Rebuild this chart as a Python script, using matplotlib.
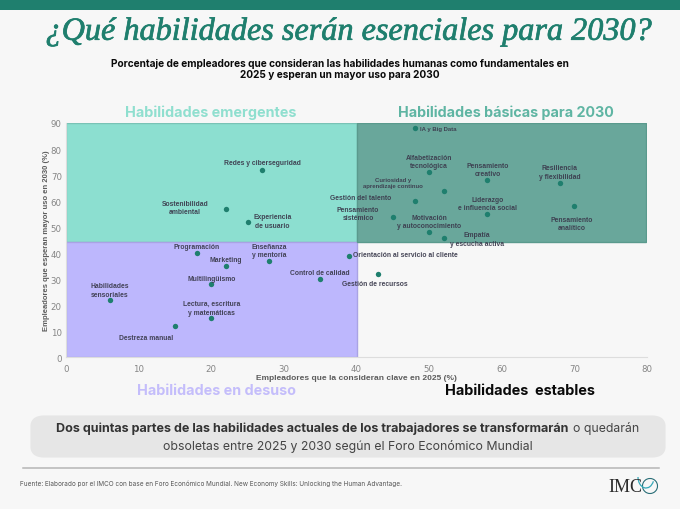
import matplotlib
matplotlib.use('Agg')
import matplotlib.pyplot as plt
import matplotlib.patheffects as pe
from matplotlib.patches import Rectangle, FancyBboxPatch, Arc

# Datos
skills = ["IA y Big Data", "Alfabetización\ntecnológica", "Pensamiento\ncreativo", "Resiliencia\ny flexibilidad",
          "Curiosidad y\naprendizaje continuo", "Gestión del talento", "Pensamiento\nanalítico",
          "Liderazgo\ne influencia social", "Pensamiento\nsistémico", "Motivación\ny autoconocimiento",
          "Empatía\ny escucha activa", "Orientación al servicio al cliente", "Gestión de recursos",
          "Control de calidad", "Redes y ciberseguridad", "Sostenibilidad\nambiental", "Experiencia\nde usuario",
          "Programación", "Marketing", "Enseñanza\ny mentoría", "Multilingüismo", "Habilidades\nsensoriales",
          "Lectura, escritura\ny matemáticas", "Destreza manual"]
clave_2025 = [48, 50, 58, 68, 52, 48, 70, 58, 45, 50, 52, 39, 43, 35, 27, 22, 25, 18, 22, 28, 20, 6, 20, 15]
uso_2030 = [88, 71, 68, 67, 64, 60, 58, 55, 54, 48, 46, 39, 32, 30, 72, 57, 52, 40, 35, 37, 28, 22, 15, 12]
x_ticks = [0, 10, 20, 30, 40, 50, 60, 70, 80]
y_ticks = [0, 10, 20, 30, 40, 50, 60, 70, 80, 90]

# Desplazamiento de cada etiqueta respecto a su punto, en pixeles
label_dx = [23.5, 0, 0.7, 0, -51, -53.5, -3, 0.7, -34.7, 0, 33.5, 56, -3, 0, 0, -41, 25, 0, 0, 0, 0, 0, 0, -28.6]
label_dy = [0, 11, 11, 11, 8, 3.4, -17, 10.4, 3, 10.7, -1.7, 0.8, -10, 6.5, 7, 1.6, 0.7, 7, 6.5, 10.3, 6.4, 10, 10.2, -11]

BG = '#f7f7f7'
W, H = 680, 510
TEAL = '#1f7f6e'


def fx(px):
    return px / W


def fy(py):
    return 1 - py / H


fig = plt.figure(figsize=(6.8, 5.1), dpi=100, facecolor=BG)

# Banda superior y bloques de fondo
fig.add_artist(Rectangle((0, fy(10.5)), 1, 10.5 / H, transform=fig.transFigure, color=TEAL, lw=0))
fig.add_artist(FancyBboxPatch((fx(36), fy(453)), 624 / W, 31 / H, transform=fig.transFigure,
                              boxstyle='round,pad=0,rounding_size=0.012', mutation_aspect=H / W * 1.0,
                              fc='#e6e6e6', ec='#e6e6e6', lw=8, joinstyle='round'))
fig.add_artist(plt.Line2D([fx(23), fx(659)], [fy(468.7), fy(468.7)], color='#b5b5b5', lw=1.1))

# Titulo, ajustado al ancho del original
title = fig.text(fx(349), fy(33), "¿Qué habilidades serán esenciales para 2030?", family='Liberation Serif',
                 style='italic', size=30, color=TEAL, ha='center', va='center')
title.set_path_effects([pe.withStroke(linewidth=0.5, foreground=TEAL)])
title_w = title.get_window_extent(fig.canvas.get_renderer()).width
title.set_size(30 * 607 / title_w)

fig.text(fx(340), fy(69.5), "Porcentaje de empleadores que consideran las habilidades humanas como fundamentales en\n"
         "2025 y esperan un mayor uso para 2030", family='Inter', weight='bold', size=7.27, color='#0a0a0a',
         ha='center', va='center', linespacing=1.15)

# Nombres de los cuadrantes
fig.text(fx(210.5), fy(113), "Habilidades emergentes", family='Inter', weight='bold', size=10.35, color='#8fdfcf',
         ha='center', va='center')
fig.text(fx(505.5), fy(113), "Habilidades básicas para 2030", family='Inter', weight='bold', size=10.3, color='#5fb5a3',
         ha='center', va='center')
fig.text(fx(216.5), fy(391), "Habilidades en desuso", family='Inter', weight='bold', size=10.35, color='#c4bdfb',
         ha='center', va='center')
fig.text(fx(520), fy(391), "Habilidades  estables", family='Inter', weight='bold', size=10.4, color='#0a0a0a',
         ha='center', va='center')

# Dispersion
ax = fig.add_axes([fx(66), fy(358.3), 581 / W, 234.3 / H], facecolor=BG)
ax.set_xlim(0, 80)
ax.set_ylim(0, 90)
ax.add_patch(Rectangle((0, 44.4), 40, 45.6, fc='#8cdfd0', ec='#79c3b6', lw=1, zorder=1))
ax.add_patch(Rectangle((0, 0), 40, 44.4, fc='#bdb7fd', ec='#a9a3e4', lw=1, zorder=1))
ax.add_patch(Rectangle((40, 44.4), 39.9, 45.6, fc='#69a79b', ec='#5a9a8d', lw=1, zorder=2))
ax.scatter(clave_2025, uso_2030, s=15, color=TEAL, zorder=3, linewidths=0)
for name, x, y, dx, dy in zip(skills, clave_2025, uso_2030, label_dx, label_dy):
    size = 4.3 if name.startswith(("Curiosidad", "IA y")) else 4.9
    ax.annotate(name, (x, y), xytext=(dx, dy), textcoords='offset pixels', ha='center', va='center',
                family='Liberation Sans', weight='bold', size=size, color='#3c3c4e', linespacing=1.3,
                zorder=4, alpha=0.95)
ax.set_xticks(x_ticks)
ax.set_yticks(y_ticks)
ax.tick_params(length=0, labelsize=6.2, labelcolor='#858585')
ax.tick_params(axis='x', pad=5)
ax.tick_params(axis='y', pad=3)
for side in ('top', 'right'):
    ax.spines[side].set_visible(False)
for side in ('left', 'bottom'):
    ax.spines[side].set_color('#dddddd')
ax.set_xlabel("Empleadores que la consideran clave en 2025 (%)", family='Liberation Sans', weight='bold',
              size=6.0, color='#5c5c5c', labelpad=0.5)
ax.set_ylabel("Empleadores que esperan mayor uso en 2030 (%)", family='Liberation Sans', weight='bold',
              size=5.5, color='#5c5c5c', labelpad=0.5)

# Recuadro de texto
fig.text(fx(56), fy(429), "Dos quintas partes de las habilidades actuales de los trabajadores se transformarán",
         family='Inter', weight='bold', size=9.07, color='#333333', ha='left', va='center')
fig.text(fx(639), fy(429), "o quedarán", family='Inter', size=8.85, color='#444444', ha='right', va='center')
fig.text(fx(348), fy(447), "obsoletas entre 2025 y 2030 según el Foro Económico Mundial", family='Inter', size=8.85,
         color='#444444', ha='center', va='center')

# Fuente y logo
fig.text(fx(20), fy(484), "Fuente: Elaborado por el IMCO con base en Foro Económico Mundial. New Economy Skills: "
         "Unlocking the Human Advantage.", family='Inter', size=4.62, color='#555555', ha='left', va='center')
fig.text(fx(608), fy(487), "IMC", family='Liberation Serif', size=13, color='#2b2b2b', ha='left', va='center')
logo = fig.add_axes([fx(636), fy(497), 24 / W, 24 / H])
logo.set_xlim(0, 24)
logo.set_ylim(0, 24)
logo.axis('off')
logo.add_patch(Arc((14, 10), 15, 15, theta1=0, theta2=360, color='#2b6f78', lw=0.8))
logo.add_patch(Arc((10, 19), 16, 22, theta1=180, theta2=330, color='#35a8b8', lw=0.9))

fig.savefig('out.png', dpi=100, facecolor=BG)
plt.close(fig)
